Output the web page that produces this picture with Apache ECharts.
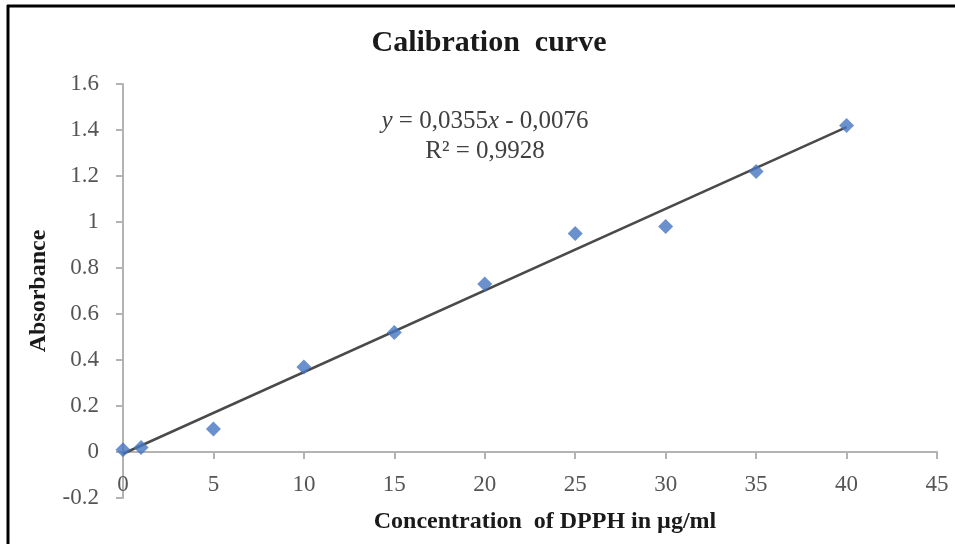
<!DOCTYPE html>
<html>
<head>
<meta charset="utf-8">
<script src="https://cdn.jsdelivr.net/npm/echarts@6/dist/echarts.min.js"></script>
<style>
  html, body { margin: 0; padding: 0; background: #ffffff; }
  #chart { width: 955px; height: 544px; }
</style>
</head>
<body>
<div id="chart"></div>
<script>
// ---- data ----
var concentration = [0, 1, 5, 10, 15, 20, 25, 30, 35, 40];
var absorbance = [0.01, 0.02, 0.10, 0.37, 0.52, 0.73, 0.95, 0.98, 1.22, 1.42];
var trendX = [0, 40];
var trendY = [-0.0076, 1.4124];
var titleText = 'Calibration  curve';
var xAxisTitle = 'Concentration  of DPPH in µg/ml';
var yAxisTitle = 'Absorbance';
var equationText = '0,0355';
var equationIntercept = '0,0076';
var r2Text = '0,9928';

var serif = '"Liberation Serif", "Times New Roman", serif';

var points = concentration.map(function (c, i) { return [c, absorbance[i]]; });
var trend = trendX.map(function (c, i) { return [c, trendY[i]]; });

var chart = echarts.init(document.getElementById('chart'), null, { renderer: 'canvas' });
chart.setOption({
  animation: false,
  backgroundColor: '#ffffff',
  title: {
    text: titleText,
    left: 484,
    top: 23,
    textAlign: 'center',
    textStyle: { fontFamily: serif, fontSize: 30, fontWeight: 'bold', color: '#1a1a1a' }
  },
  grid: { left: 123, right: 18, top: 84, bottom: 46, containLabel: false, outerBoundsMode: 'none' },
  xAxis: {
    type: 'value',
    min: 0, max: 45, interval: 5,
    offset: -46,
    name: xAxisTitle,
    nameLocation: 'middle',
    nameGap: 58,
    nameTextStyle: { fontFamily: serif, fontSize: 24, fontWeight: 'bold', color: '#1a1a1a', padding: [0, 0, 0, 30] },
    axisLine: { onZero: false, lineStyle: { color: '#b3b3b3', width: 2 } },
    axisTick: { show: true, inside: false, length: 7, lineStyle: { color: '#b3b3b3', width: 2 } },
    axisLabel: { margin: 21, fontFamily: serif, fontSize: 23, color: '#555555' },
    splitLine: { show: false }
  },
  yAxis: {
    type: 'value',
    min: -0.2, max: 1.6, interval: 0.2,
    name: yAxisTitle,
    nameLocation: 'middle',
    nameGap: 72,
    nameRotate: 90,
    nameTextStyle: { fontFamily: serif, fontSize: 24, fontWeight: 'bold', color: '#1a1a1a' },
    axisLine: { onZero: false, lineStyle: { color: '#b3b3b3', width: 2 } },
    axisTick: { show: true, inside: false, length: 7, lineStyle: { color: '#b3b3b3', width: 2 } },
    axisLabel: { margin: 24, fontFamily: serif, fontSize: 23, color: '#555555' },
    splitLine: { show: false }
  },
  series: [
    {
      type: 'line',
      data: trend,
      symbol: 'none',
      lineStyle: { color: '#4a4a4a', width: 2.5 },
      z: 2
    },
    {
      type: 'scatter',
      data: points,
      symbol: 'diamond',
      symbolSize: 15,
      itemStyle: { color: '#4576c2' },
      z: 3
    }
  ],
  graphic: [
    { type: 'line', shape: { x1: 8, y1: 5, x2: 8, y2: 544 }, style: { stroke: '#000', lineWidth: 3 } },
    { type: 'line', shape: { x1: 7, y1: 6, x2: 955, y2: 6 }, style: { stroke: '#000', lineWidth: 3 } },
    {
      type: 'text', x: 485, y: 121,
      style: {
        text: '{i|y} = ' + equationText + '{i|x} - ' + equationIntercept,
        align: 'center', verticalAlign: 'middle',
        font: '25px ' + serif, fill: '#404040',
        rich: { i: { fontStyle: 'italic', fontFamily: serif, fontSize: 25, fill: '#404040' } }
      }
    },
    {
      type: 'text', x: 485, y: 151,
      style: {
        text: 'R² = ' + r2Text,
        align: 'center', verticalAlign: 'middle',
        font: '25px ' + serif, fill: '#404040'
      }
    }
  ]
});
</script>
</body>
</html>
